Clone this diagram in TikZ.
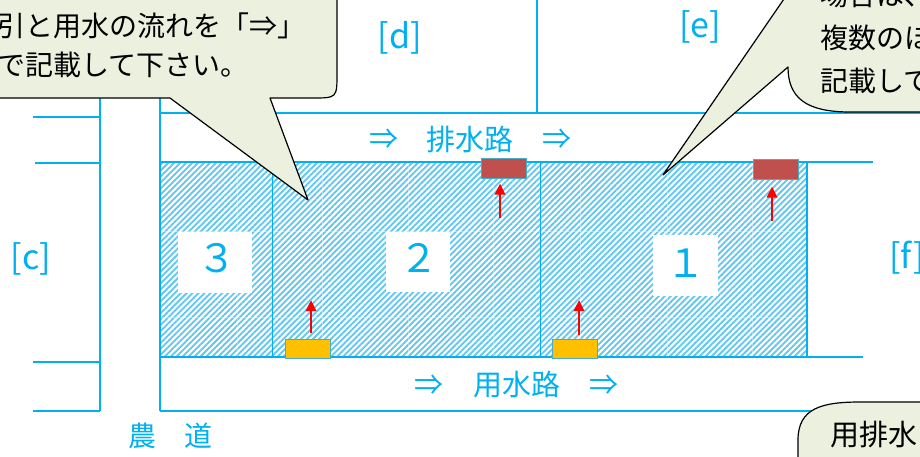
\documentclass[tikz,border=0pt]{standalone}
\usepackage{fontspec}
\newfontfamily\jp{Noto Sans CJK JP}
\usetikzlibrary{patterns.meta,arrows.meta}
\definecolor{lb}{HTML}{00B0F0}
\definecolor{hatch}{RGB}{95,198,242}
\definecolor{callfill}{HTML}{EBF1DE}
\definecolor{drain}{HTML}{C0504D}
\definecolor{inlet}{HTML}{FFC000}
\definecolor{boxedge}{HTML}{4BACC6}
\begin{document}
\begin{tikzpicture}[x=1pt,y=-1pt,
  bl/.style={draw=lb,line width=1.3pt},
  thinbl/.style={draw=lb,line width=0.9pt},
  lbl/.style={text=lb,inner sep=0pt,font=\jp\fontsize{34}{34}\selectfont},
  canal/.style={text=lb,inner sep=0pt,font=\jp\fontsize{29}{29}\selectfont},
  numtxt/.style={text=lb,inner sep=0pt,font=\jp\fontsize{39}{39}\selectfont},
  numbox/.style={fill=white,inner sep=0pt},
  ctext/.style={text=black,inner sep=0pt,anchor=west,font=\jp\fontsize{28}{28}\selectfont},
  callout/.style={draw=black,line width=1.2pt,fill=callfill,line join=round},
  drainbox/.style={draw=boxedge,line width=1pt,fill=drain,minimum width=45pt,minimum height=20pt,inner sep=0pt},
  inletbox/.style={draw=boxedge,line width=1pt,fill=inlet,minimum width=45pt,minimum height=19pt,inner sep=0pt},
  redarr/.style={draw=red,line width=2.6pt,-{Triangle[length=11pt,width=10pt]}}
]
\useasboundingbox (0,0) rectangle (920,456);
\clip (0,0) rectangle (920,456);
\fill[white] (0,0) rectangle (920,456);

% surrounding lines
\draw[bl] (33,117) -- (100,117);
\draw[bl] (35,163) -- (100,163);
\draw[bl] (33,362) -- (100,362);
\draw[bl] (33,411) -- (100,411);
\draw[bl] (100,90) -- (100,411);
\draw[bl] (160,90) -- (160,411);
\draw[bl] (160,113) -- (930,113);
\draw[bl] (537,-5) -- (537,113);
\draw[bl] (160,162) -- (873,162);
\draw[bl] (160,357) -- (863,357);
\draw[bl] (160,411) -- (930,411);

% fields
\fill[pattern={Lines[angle=45,distance=4.2pt,line width=1.8pt]},pattern color=hatch] (160,162) rectangle (807,357);
\foreach \x in {237,322,408,493,580,667,752}
  \draw[white,opacity=.35,line width=1pt] (\x,163) -- (\x,356);
\foreach \y in {231,317}
  \draw[white,opacity=.35,line width=1pt] (161,\y) -- (806,\y);
\draw[bl] (160,162) rectangle (807,357);
\draw[thinbl] (272,162) -- (272,357);
\draw[thinbl] (540,162) -- (540,357);

% field numbers
\node[numbox,minimum width=74pt,minimum height=61pt] (f3) at (215,262.5) {};
\node[numbox,minimum width=64pt,minimum height=60pt] (f2) at (418,262) {};
\node[numbox,minimum width=65pt,minimum height=61pt] (f1) at (685.5,265.5) {};
\node[numtxt] (n3) at (217,258) {３};
\node[numtxt] (n2) at (419,258) {２};
\node[numtxt] (n1) at (686,263) {１};

% boxes
\node[drainbox] (dr2) at (503.5,168) {};
\node[drainbox] (dr1) at (775.5,169) {};
\node[inletbox] (in2) at (307.5,348.5) {};
\node[inletbox] (in1) at (575,349) {};

% arrows
\coordinate (a2) at (500,218);
\coordinate (a1) at (772,221);
\coordinate (b2) at (311,300);
\coordinate (b1) at (579,300);
\draw[redarr,shorten >=5pt] (a2) -- (a2 |- dr2.south);
\draw[redarr,shorten >=7pt] (a1) -- (a1 |- dr1.south);
\draw[redarr,shorten <=6pt] (b2 |- in2.north) -- (b2);
\draw[redarr,shorten <=4pt] (b1 |- in1.north) -- (b1);

% canal labels
\node[canal] (da) at (384,139) {⇒};
\node[canal] (db) at (470,139) {排水路};
\node[canal] (dc) at (557,139) {⇒};
\node[canal] (ua) at (429,385) {⇒};
\node[canal] (ub) at (517,385) {用水路};
\node[canal] (uc) at (604,385) {⇒};
\node[canal,font=\jp\fontsize{28}{28}\selectfont] (road) at (170,436) {農　道};

% area labels
\node[lbl] (lc) at (31,259) {[c]};
\node[lbl] (ld) at (400,38) {[d]};
\node[lbl] (le) at (700,27) {[e]};
\node[lbl,anchor=west] (lf) at (889,258) {[f]};

% callouts
\coordinate (tip1) at (308,200);
\coordinate (tip2) at (663,175);
\draw[callout] (-20,-20) -- (337,-20) -- (337,73) .. controls (337,98) .. (312,98) -- (270,98) -- (tip1) -- (170,98) -- (-20,98) -- cycle;
\draw[callout] (tip2) -- (797,-20) -- (940,-20) -- (940,112) -- (850,112) .. controls (805,112) and (788,97) .. (788,67) -- cycle;
\draw[callout] (798,470) -- (798,440) .. controls (798,408) and (822,402) .. (860,402) -- (940,402) -- (940,470) -- cycle;

\node[ctext] (t1) at (-3,26) {引と用水の流れを「⇒」};
\node[ctext] (t2) at (-3,65) {で記載して下さい。};
\node[ctext] (u1) at (820,-5) {場合は、};
\node[ctext] (u2) at (820,38) {複数のほ};
\node[ctext] (u3) at (820,81) {記載して};
\node[ctext,font=\jp\fontsize{29}{29}\selectfont] (v1) at (830,435) {用排水};
\end{tikzpicture}
\end{document}
